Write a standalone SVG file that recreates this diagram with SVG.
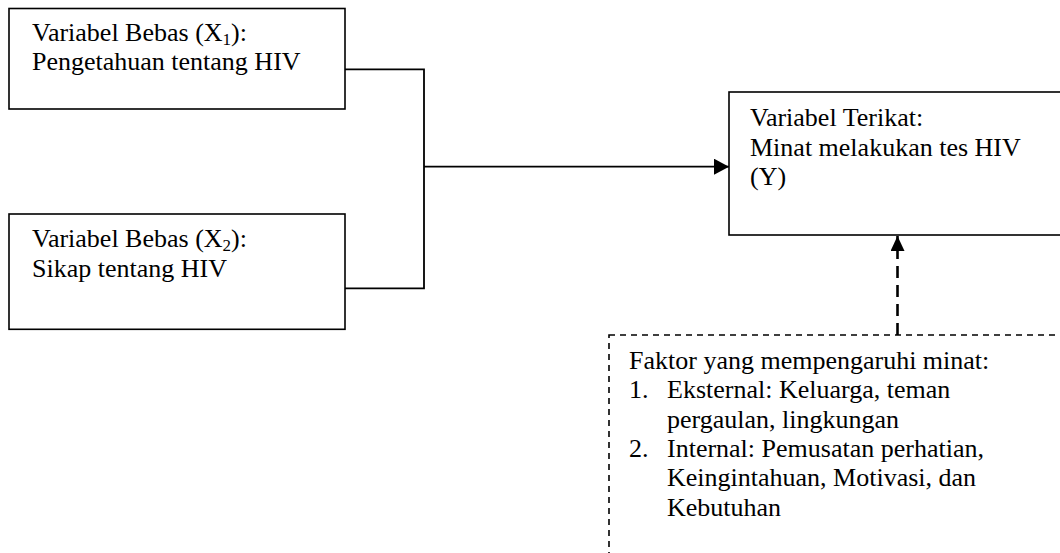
<svg xmlns="http://www.w3.org/2000/svg" width="1060" height="553" viewBox="0 0 1060 553">
<style>
text{font-family:"Liberation Serif","Times New Roman",serif;font-size:26px;fill:#000}
.box{fill:#fff;stroke:#000;stroke-width:1.6}
.dbox{fill:#fff;stroke:#000;stroke-width:1.6;stroke-dasharray:6 5}
.ln{fill:none;stroke:#000;stroke-width:1.8}
.dln{fill:none;stroke:#000;stroke-width:2.6;stroke-dasharray:12 7}
.sub{font-size:17px}
</style>
<defs>
<marker id="ah" markerUnits="userSpaceOnUse" markerWidth="16" markerHeight="16" refX="15" refY="8" orient="auto">
<path d="M0,0 L15,8 L0,16 Z" fill="#000"/>
</marker>
<marker id="ah2" markerUnits="userSpaceOnUse" markerWidth="15" markerHeight="14" refX="15" refY="7" orient="auto">
<path d="M0,0 L15,7 L0,14 Z" fill="#000"/>
</marker>
</defs>
<rect width="1060" height="553" fill="#fff"/>
<g id="connectors">
<polyline class="ln" points="345,69.3 424,69.3 424,288.3 345,288.3"/>
<line class="ln" x1="424" y1="166.7" x2="729" y2="166.7" marker-end="url(#ah)"/>
<line class="dln" x1="897.5" y1="335" x2="897.5" y2="236" marker-end="url(#ah2)"/>
</g>
<g id="x1">
<rect class="box" x="9" y="8.5" width="336" height="100.5"/>
<text x="32" y="40.5">Variabel Bebas (X<tspan class="sub" dy="4">1</tspan><tspan dy="-4">):</tspan></text>
<text x="32" y="70">Pengetahuan tentang HIV</text>
</g>
<g id="x2">
<rect class="box" x="9" y="214" width="336" height="115.3"/>
<text x="32" y="247">Variabel Bebas (X<tspan class="sub" dy="4">2</tspan><tspan dy="-4">):</tspan></text>
<text x="32" y="276.5">Sikap tentang HIV</text>
</g>
<g id="y">
<rect class="box" x="729" y="92" width="340" height="143"/>
<text x="750" y="126">Variabel Terikat:</text>
<text x="750" y="155.5">Minat melakukan tes HIV</text>
<text x="750" y="185">(Y)</text>
</g>
<g id="faktor">
<rect class="dbox" x="609" y="335" width="460" height="240"/>
<text x="629" y="369">Faktor yang mempengaruhi minat:</text>
<text x="629" y="398.3">1.</text>
<text x="667" y="398.3">Eksternal: Keluarga, teman</text>
<text x="667" y="427.6">pergaulan, lingkungan</text>
<text x="629" y="456.9">2.</text>
<text x="667" y="456.9">Internal: Pemusatan perhatian,</text>
<text x="667" y="486.2">Keingintahuan, Motivasi, dan</text>
<text x="667" y="515.5">Kebutuhan</text>
</g>
</svg>
